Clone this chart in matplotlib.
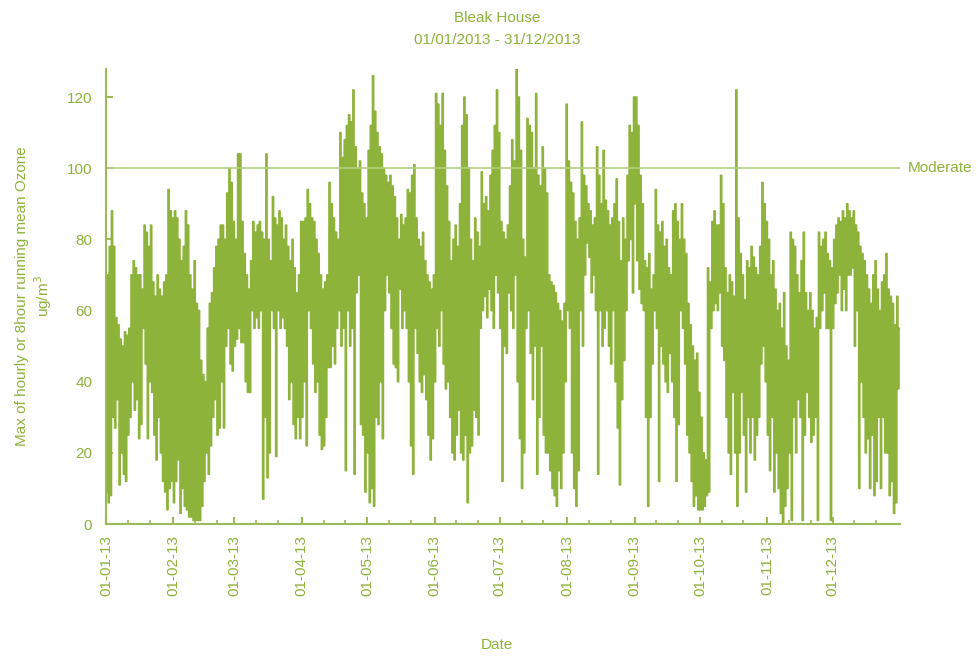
import datetime as dt

import matplotlib
matplotlib.use("Agg")
import matplotlib.dates as mdates
import matplotlib.pyplot as plt
import matplotlib.transforms as mtransforms
import numpy as np

plt.rcParams["font.family"] = ["Liberation Sans", "DejaVu Sans"]

# Daily high / low of the ozone series (ug/m3), one value per day, Jan..Dec 2013
jan_hi = [70, 78, 88, 78, 58, 56, 52, 50, 54, 53, 55, 70, 74, 72, 70, 70, 66, 84, 82, 78,
          84, 68, 64, 70, 66, 64, 68, 70, 94, 88, 86]
jan_lo = [9, 6, 8, 30, 27, 35, 11, 20, 14, 12, 25, 30, 40, 32, 35, 24, 28, 55, 45, 24,
          40, 37, 25, 18, 30, 20, 12, 9, 4, 10, 12]
feb_hi = [88, 86, 80, 74, 78, 88, 84, 70, 66, 74, 62, 60, 46, 42, 40, 55, 62, 65, 72, 78,
          80, 84, 84, 80, 93, 100, 96, 85]
feb_lo = [6, 12, 18, 3, 10, 5, 4, 2, 2, 1, 1, 1, 1, 5, 12, 20, 14, 22, 30, 35,
          25, 27, 40, 27, 50, 55, 45, 43]
mar_hi = [80, 104, 104, 85, 76, 70, 66, 74, 85, 82, 84, 85, 82, 80, 104, 80, 74, 92, 86, 84,
          88, 86, 80, 84, 78, 74, 80, 72, 65, 70, 85]
mar_lo = [50, 52, 55, 51, 51, 40, 37, 37, 60, 55, 58, 55, 60, 7, 30, 13, 20, 60, 55, 19,
          60, 55, 58, 55, 50, 35, 40, 28, 24, 30, 24]
apr_hi = [85, 86, 94, 90, 86, 85, 80, 76, 70, 66, 68, 70, 96, 90, 86, 82, 80, 110, 103, 108,
          112, 115, 113, 122, 106, 100, 102, 93, 90, 86]
apr_lo = [30, 40, 22, 60, 55, 45, 37, 40, 25, 21, 22, 30, 44, 44, 50, 45, 55, 60, 50, 55,
          15, 60, 50, 55, 14, 65, 70, 28, 25, 9]
may_hi = [105, 112, 126, 116, 110, 106, 104, 100, 98, 96, 98, 95, 92, 86, 80, 87, 84, 86, 94, 93,
          98, 101, 86, 80, 78, 82, 74, 70, 68, 66, 70]
may_lo = [20, 6, 10, 5, 30, 28, 40, 24, 60, 70, 65, 55, 45, 44, 40, 66, 55, 60, 55, 40,
          22, 14, 55, 48, 40, 37, 42, 35, 25, 18, 24]
jun_hi = [121, 118, 112, 121, 105, 95, 85, 74, 80, 84, 78, 90, 112, 120, 115, 100, 80, 74, 86, 82,
          78, 99, 90, 92, 88, 98, 105, 112, 122, 110]
jun_lo = [40, 55, 50, 60, 45, 38, 40, 30, 20, 18, 25, 32, 20, 18, 25, 6, 20, 22, 32, 30,
          25, 55, 60, 64, 58, 66, 60, 55, 70, 65]
jul_hi = [85, 82, 80, 84, 95, 108, 102, 128, 120, 105, 80, 75, 114, 112, 110, 100, 121, 98, 95, 106,
          100, 93, 70, 68, 67, 65, 62, 60, 57, 62, 118]
jul_lo = [55, 12, 50, 48, 65, 60, 55, 70, 40, 24, 10, 20, 55, 60, 48, 35, 50, 14, 30, 50,
          25, 20, 20, 15, 10, 8, 5, 15, 10, 20, 40]
aug_hi = [102, 96, 93, 85, 80, 86, 113, 98, 95, 90, 88, 84, 86, 106, 98, 90, 105, 91, 88, 84,
          86, 90, 97, 85, 74, 86, 80, 98, 112, 110, 120]
aug_lo = [60, 55, 20, 10, 5, 15, 60, 50, 70, 79, 75, 65, 70, 60, 14, 60, 50, 55, 60, 50,
          45, 60, 40, 27, 11, 35, 46, 60, 74, 80, 65]
sep_hi = [120, 112, 98, 90, 74, 72, 76, 66, 70, 94, 84, 82, 85, 78, 80, 72, 70, 88, 90, 85,
          80, 90, 80, 76, 62, 56, 50, 46, 48, 37]
sep_lo = [90, 74, 66, 62, 60, 30, 5, 30, 45, 60, 55, 12, 50, 45, 40, 37, 48, 40, 30, 12,
          28, 60, 55, 45, 25, 20, 12, 5, 8, 4]
oct_hi = [30, 20, 18, 72, 68, 85, 88, 84, 84, 98, 90, 72, 65, 70, 68, 64, 122, 86, 76, 70,
          63, 74, 72, 78, 75, 72, 70, 78, 96, 90, 85]
oct_lo = [4, 4, 5, 8, 9, 55, 60, 62, 60, 65, 50, 46, 30, 20, 14, 37, 20, 5, 20, 37,
          25, 9, 30, 20, 30, 18, 25, 30, 45, 50, 40]
nov_hi = [80, 70, 74, 66, 60, 62, 55, 65, 50, 46, 82, 80, 78, 70, 65, 74, 82, 65, 60, 65,
          60, 55, 58, 82, 78, 80, 82, 76, 74, 72]
nov_lo = [25, 15, 30, 9, 20, 10, 3, 0, 5, 10, 20, 1, 30, 20, 35, 30, 1, 25, 37, 30,
          23, 25, 30, 1, 55, 60, 65, 55, 55, 1]
dec_hi = [80, 84, 86, 85, 88, 86, 90, 88, 86, 88, 84, 82, 78, 76, 74, 70, 66, 62, 70, 74,
          66, 60, 68, 70, 76, 66, 64, 62, 56, 64, 55]
dec_lo = [55, 62, 65, 70, 60, 66, 60, 70, 70, 72, 50, 60, 10, 40, 30, 20, 24, 10, 25, 8,
          12, 30, 10, 30, 20, 20, 8, 12, 3, 6, 38]

moderate_level = 100
site = "Bleak House"
period = "01/01/2013 - 31/12/2013"

daily_hi = np.array(jan_hi + feb_hi + mar_hi + apr_hi + may_hi + jun_hi +
                    jul_hi + aug_hi + sep_hi + oct_hi + nov_hi + dec_hi, dtype=float)
daily_lo = np.array(jan_lo + feb_lo + mar_lo + apr_lo + may_lo + jun_lo +
                    jul_lo + aug_lo + sep_lo + oct_lo + nov_lo + dec_lo, dtype=float)

start = mdates.date2num(dt.datetime(2013, 1, 1))
days = np.arange(len(daily_hi))

# each day swings from its low up to its high
t = np.empty(2 * len(days))
t[0::2] = start + days + 0.25
t[1::2] = start + days + 0.75
vals = np.empty(2 * len(days))
vals[0::2] = daily_lo
vals[1::2] = daily_hi

GREEN = "#8db33a"
AXIS = "#9bbb59"
TEXT = "#8db33a"

fig = plt.figure(figsize=(9.78, 6.57), dpi=100)
ax = fig.add_axes([0.1084, 0.2024, 0.8119, 0.6932])

ax.plot(t, vals, color=GREEN, linewidth=1.2, drawstyle="steps-mid")
ax.axhline(moderate_level, color="#b5cf80", linewidth=1.2)
trans = mtransforms.blended_transform_factory(ax.transAxes, ax.transData)
ax.text(1.01, moderate_level, "Moderate", transform=trans, color=TEXT,
        fontsize=11, va="center", ha="left")

ax.set_xlim(start, mdates.date2num(dt.datetime(2014, 1, 1)))
ax.set_ylim(0, 128)
ax.set_yticks(range(0, 121, 20))

month_starts = [mdates.date2num(dt.datetime(2013, m, 1)) for m in range(1, 13)]
ax.set_xticks(month_starts)
ax.xaxis.set_major_formatter(mdates.DateFormatter("%d-%m-%y"))
ax.xaxis.set_minor_locator(mdates.DayLocator(bymonthday=[11, 21]))

for side in ("top", "right"):
    ax.spines[side].set_visible(False)
for side in ("left", "bottom"):
    ax.spines[side].set_color(AXIS)
    ax.spines[side].set_linewidth(1.5)

ax.tick_params(axis="both", which="major", direction="in", length=5, width=1.5,
               color=AXIS, labelcolor=TEXT, labelsize=11)
ax.tick_params(axis="x", which="minor", direction="in", length=3, width=1.2, color=AXIS)
ax.tick_params(axis="x", which="major", pad=8)
ax.tick_params(axis="y", which="major", pad=10)
for lbl in ax.get_xticklabels():
    lbl.set_rotation(90)

ax.set_ylabel("Max of hourly or 8hour running mean Ozone\nug/m$^3$", color=TEXT,
              fontsize=11, labelpad=9)
fig.text(0.508, 0.018, "Date", color=TEXT, fontsize=11, ha="center", va="center")
fig.text(0.508, 0.972, site, color=TEXT, fontsize=11, ha="center", va="center")
fig.text(0.508, 0.939, period, color=TEXT, fontsize=11, ha="center", va="center")

fig.savefig("out.png", dpi=100)
